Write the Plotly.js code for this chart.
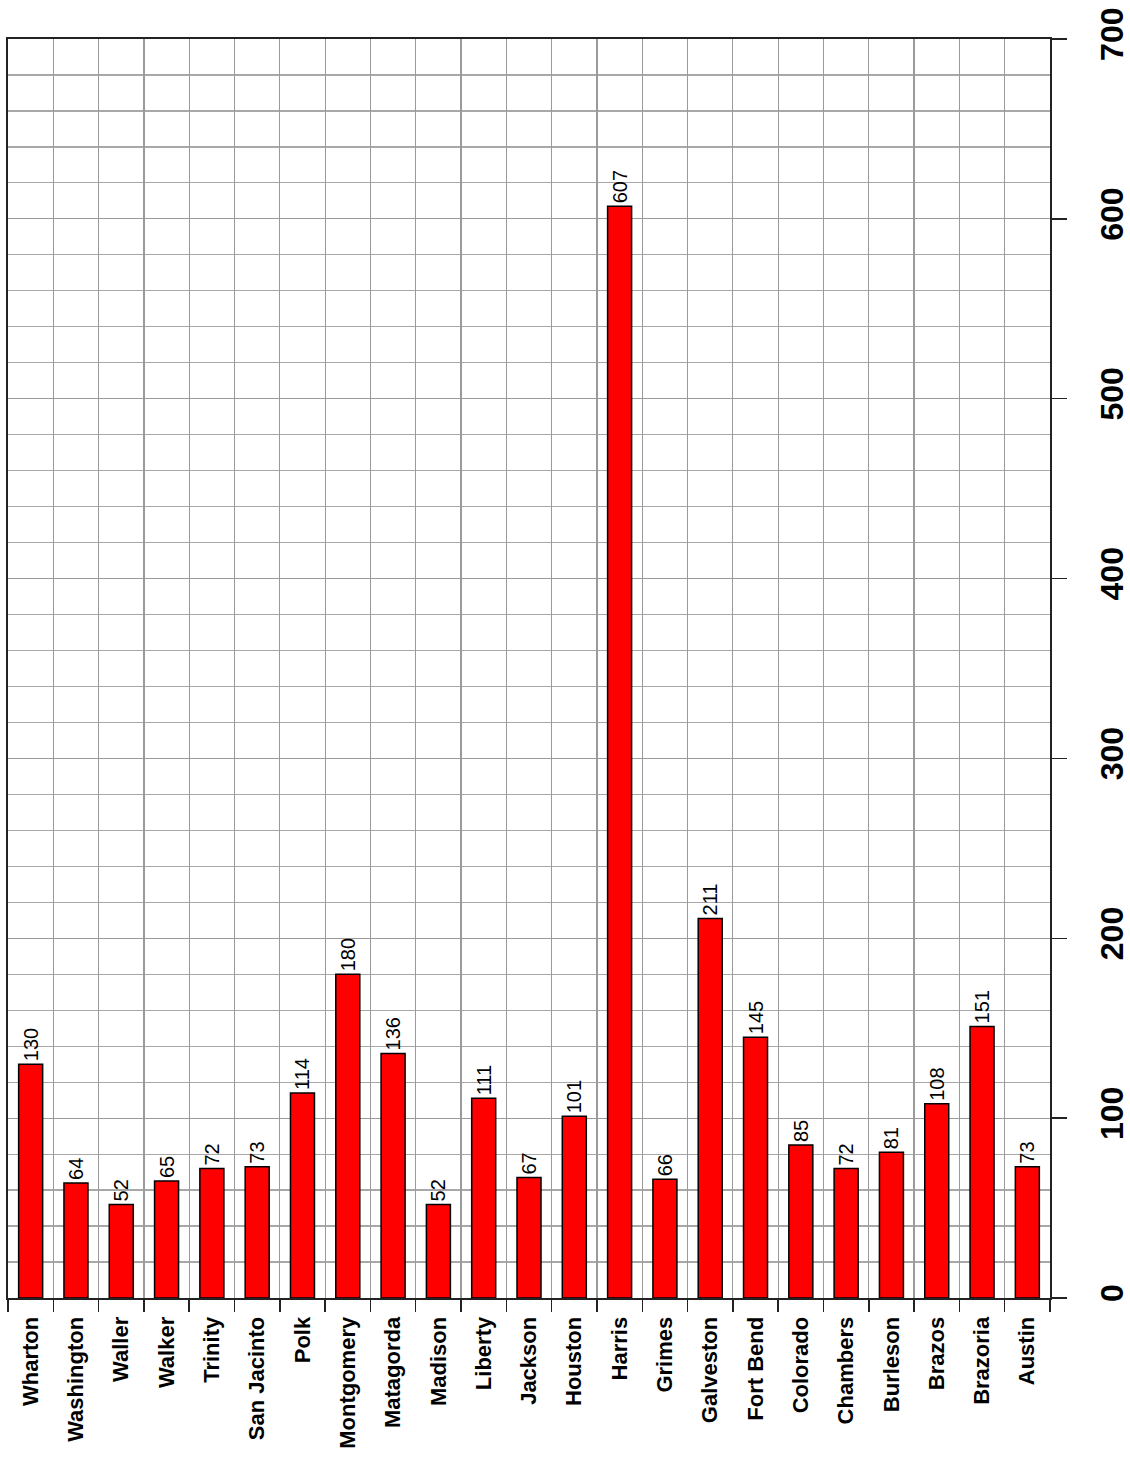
<!DOCTYPE html>
<html>
<head>
<meta charset="utf-8">
<script src="https://cdn.plot.ly/plotly-3.0.1.min.js"></script>
<style>html,body{margin:0;padding:0;background:#fff;}#chart{width:1130px;height:1463px;}</style>
</head>
<body>
<div id="chart"></div>
<script>
const counties = ["Wharton","Washington","Waller","Walker","Trinity","San Jacinto","Polk","Montgomery","Matagorda","Madison","Liberty","Jackson","Houston","Harris","Grimes","Galveston","Fort Bend","Colorado","Chambers","Burleson","Brazos","Brazoria","Austin"];
const counts = [130,64,52,65,72,73,114,180,136,52,111,67,101,607,66,211,145,85,72,81,108,151,73];
const yTicks = [0,100,200,300,400,500,600,700];

const trace = {
  type: "bar",
  x: counties,
  y: counts,
  text: counts.map(String),
  textposition: "outside",
  textangle: -90,
  constraintext: "none",
  cliponaxis: false,
  textfont: {family: "Liberation Sans, Arial, sans-serif", size: 20, color: "#000"},
  marker: {color: "#ff0000", line: {color: "#000", width: 1.5}},
  width: 0.53,
  hoverinfo: "x+y"
};

const layout = {
  width: 1130,
  height: 1463,
  margin: {l: 8, r: 80, t: 39, b: 165},
  paper_bgcolor: "#fff",
  plot_bgcolor: "#fff",
  showlegend: false,
  xaxis: {
    type: "category",
    tickson: "boundaries",
    ticks: "outside",
    ticklen: 12,
    tickwidth: 1.5,
    tickcolor: "#222",
    tickangle: -90,
    ticklabelstandoff: 8,
    tickfont: {family: "Liberation Sans, Arial, sans-serif", size: 22, color: "#000", weight: "bold"},
    showgrid: true,
    gridcolor: "#9a9a9a",
    gridwidth: 1.2,
    showline: true,
    linecolor: "#222",
    linewidth: 2,
    mirror: true,
    range: [-0.5, counties.length - 0.5]
  },
  yaxis: {
    side: "right",
    range: [0, 700],
    tickvals: yTicks,
    ticktext: yTicks.map(String),
    ticks: "outside",
    ticklen: 15,
    tickwidth: 1.5,
    tickcolor: "#222",
    tickangle: -90,
    ticklabelstandoff: 18,
    tickfont: {family: "Liberation Sans, Arial, sans-serif", size: 32, color: "#000", weight: "bold"},
    showgrid: true,
    gridcolor: "#9a9a9a",
    gridwidth: 1.2,
    minor: {dtick: 20, showgrid: true, gridcolor: "#a8a8a8", gridwidth: 1.2},
    showline: true,
    linecolor: "#222",
    linewidth: 2,
    mirror: true,
    zeroline: false
  }
};

Plotly.newPlot("chart", [trace], layout, {displayModeBar: false, staticPlot: true});
</script>
</body>
</html>
